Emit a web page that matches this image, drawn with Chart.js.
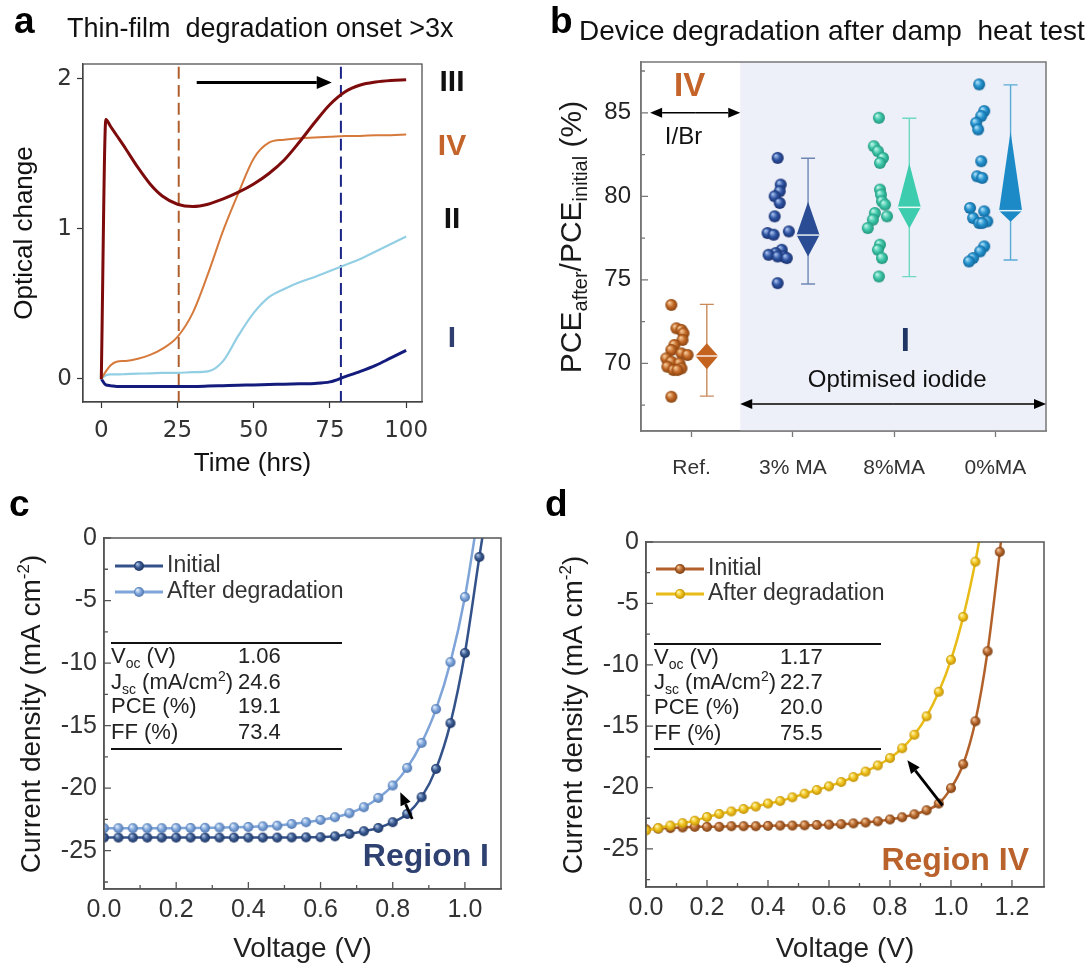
<!DOCTYPE html>
<html>
<head>
<meta charset="utf-8">
<script src="https://cdn.jsdelivr.net/npm/chart.js@4.4.1/dist/chart.umd.min.js"></script>
<style>
  html, body { margin: 0; padding: 0; background: #fff; }
  #wrap { position: relative; width: 1088px; height: 968px; overflow: hidden; }
  #wrap canvas { position: absolute; }
</style>
</head>
<body>
<div id="wrap">
  <canvas id="chartA" width="544" height="484" style="left:0;top:0"></canvas>
  <canvas id="chartB" width="544" height="484" style="left:544px;top:0"></canvas>
  <canvas id="chartC" width="544" height="484" style="left:0;top:484px"></canvas>
  <canvas id="chartD" width="544" height="484" style="left:544px;top:484px"></canvas>
</div>
<script>
// ---------- panel a : optical change of thin films ----------
const aTime = [0, 1.5, 3, 5, 8, 12, 16, 20, 25, 30, 35, 40, 45, 50, 55, 60, 65, 70, 75, 80, 85, 90, 95, 100];
const aRegionIII = [0, 1.73, 1.685, 1.625, 1.535, 1.41, 1.30, 1.22, 1.165, 1.15, 1.165, 1.20, 1.245, 1.30, 1.37, 1.46, 1.58, 1.71, 1.83, 1.915, 1.96, 1.98, 1.99, 1.995];
const aRegionIV = [0, 0.05, 0.09, 0.115, 0.12, 0.135, 0.16, 0.20, 0.28, 0.44, 0.70, 0.99, 1.24, 1.47, 1.575, 1.595, 1.605, 1.61, 1.615, 1.62, 1.62, 1.625, 1.625, 1.63];
const aRegionII = [0, 0.025, 0.03, 0.03, 0.032, 0.035, 0.037, 0.04, 0.04, 0.045, 0.05, 0.12, 0.29, 0.44, 0.545, 0.60, 0.645, 0.68, 0.72, 0.76, 0.80, 0.85, 0.90, 0.95];
const aRegionI = [0, -0.04, -0.045, -0.05, -0.05, -0.05, -0.05, -0.05, -0.05, -0.05, -0.048, -0.045, -0.042, -0.04, -0.037, -0.035, -0.032, -0.03, -0.02, 0.015, 0.05, 0.09, 0.14, 0.19];
const aOnset = [25.4, 78.6];
const aTicksX = [0, 25, 50, 75, 100];
const aTicksY = [0, 1, 2];
const aNames = ['III', 'IV', 'II', 'I'];

// ---------- panel b : PCE retention after damp heat ----------
const bGroups = ['Ref.', '3% MA', '8%MA', '0%MA'];
const bPos = [1, 2, 3, 4];
const bRefY = [73.5, 72.1, 72.0, 71.8, 71.4, 71.1, 70.8, 70.6, 70.5, 70.3, 70.1, 70.0, 69.8, 69.7, 69.6, 69.6, 68.0];
const bRefDx = [-0.20, -0.15, -0.10, -0.08, -0.09, -0.17, -0.20, -0.10, -0.04, -0.25, -0.20, -0.12, -0.24, -0.10, -0.18, -0.14, -0.20];
const bMA3Y = [82.3, 80.7, 80.3, 80.0, 79.6, 78.8, 77.8, 77.7, 77.9, 76.8, 76.6, 76.5, 76.4, 76.4, 76.3, 74.8];
const bMA3Dx = [-0.15, -0.12, -0.13, -0.18, -0.13, -0.18, -0.25, -0.19, -0.04, -0.11, -0.17, -0.24, -0.09, -0.15, -0.06, -0.15];
const bMA8Y = [84.7, 83.0, 82.7, 82.3, 82.0, 80.4, 80.1, 79.7, 79.5, 79.0, 78.8, 78.6, 78.1, 77.1, 76.8, 76.3, 75.2];
const bMA8Dx = [-0.15, -0.20, -0.16, -0.11, -0.14, -0.14, -0.13, -0.12, -0.09, -0.19, -0.07, -0.21, -0.26, -0.14, -0.16, -0.12, -0.15];
const bMA0Y = [86.7, 85.1, 84.8, 84.4, 84.0, 82.1, 81.2, 81.1, 79.3, 79.1, 78.7, 78.5, 78.4, 78.4, 77.0, 76.7, 76.3, 76.1];
const bMA0Dx = [-0.16, -0.11, -0.14, -0.19, -0.17, -0.14, -0.18, -0.13, -0.25, -0.11, -0.22, -0.08, -0.16, -0.13, -0.11, -0.15, -0.22, -0.26];
const bMean = [70.44, 77.68, 79.34, 79.14];
const bUpper = [71.2, 79.68, 81.98, 83.87];
const bLower = [69.64, 76.39, 78.08, 78.48];
const bMax = [73.53, 82.28, 84.67, 86.67];
const bMin = [68.04, 74.75, 75.19, 76.19];
const bTicksY = [70, 75, 80, 85];
const bMinorY = [67.5, 72.5, 77.5, 82.5, 87.5];

// ---------- panel c : J-V, region I ----------
const cVoltage = [0.00, 0.04, 0.08, 0.12, 0.16, 0.20, 0.24, 0.28, 0.32, 0.36, 0.40, 0.44, 0.48, 0.52, 0.56, 0.60, 0.64, 0.68, 0.72, 0.76, 0.80, 0.84, 0.88, 0.92, 0.96, 1.00, 1.04, 1.08];
const cInitial = [-23.95, -23.95, -23.95, -23.95, -23.95, -23.95, -23.95, -23.95, -23.95, -23.95, -23.95, -23.95, -23.95, -23.94, -23.93, -23.92, -23.85, -23.66, -23.44, -23.18, -22.72, -22.06, -20.72, -18.46, -14.80, -9.20, -1.52, 6.0];
const cAfter = [-23.20, -23.20, -23.20, -23.20, -23.20, -23.19, -23.18, -23.17, -23.15, -23.13, -23.10, -23.05, -23.00, -22.86, -22.72, -22.54, -22.32, -22.00, -21.52, -20.78, -19.79, -18.38, -16.38, -13.68, -9.92, -4.72, 2.5, null];
const cTable = ['1.06', '24.6', '19.1', '73.4'];

// ---------- panel d : J-V, region IV ----------
const dVoltage = [0.00, 0.04, 0.08, 0.12, 0.16, 0.20, 0.24, 0.28, 0.32, 0.36, 0.40, 0.44, 0.48, 0.52, 0.56, 0.60, 0.64, 0.68, 0.72, 0.76, 0.80, 0.84, 0.88, 0.92, 0.96, 1.00, 1.04, 1.08, 1.12, 1.16, 1.20];
const dInitial = [-23.40, -23.35, -23.30, -23.25, -23.20, -23.20, -23.20, -23.15, -23.15, -23.15, -23.12, -23.10, -23.10, -23.08, -23.05, -23.02, -22.98, -22.92, -22.85, -22.75, -22.60, -22.42, -22.18, -21.85, -21.30, -20.05, -18.10, -14.60, -8.90, -0.80, 8.0];
const dAfter = [-23.50, -23.30, -23.10, -22.90, -22.70, -22.40, -22.15, -21.95, -21.75, -21.55, -21.30, -21.10, -20.80, -20.50, -20.20, -19.90, -19.55, -19.15, -18.70, -18.20, -17.60, -16.80, -15.70, -14.20, -12.20, -9.60, -6.10, -1.60, 4.0, null, null];
const dTable = ['1.17', '22.7', '20.0', '75.5'];

const jvTicksY = [0, -5, -10, -15, -20, -25];
const jvMinorY = [-2.5, -7.5, -12.5, -17.5, -22.5, -27.5];

// ---------- helpers ----------
const SANS = '"Liberation Sans", Arial, sans-serif';
const pts = (xs, ys) => xs.map((v, i) => ({ x: v, y: ys[i] }));

function sphere(base, light, dark, r) {
  const c = document.createElement('canvas');
  c.width = c.height = Math.ceil(r * 2 + 2);
  const g = c.getContext('2d');
  const m = c.width / 2;
  const grd = g.createRadialGradient(m - r * 0.35, m - r * 0.4, r * 0.1, m, m, r);
  grd.addColorStop(0, light);
  grd.addColorStop(0.5, base);
  grd.addColorStop(1, dark);
  g.fillStyle = grd;
  g.beginPath();
  g.arc(m, m, r, 0, Math.PI * 2);
  g.fill();
  return c;
}

function arrow(ctx, x1, y1, x2, y2, color, lw, hl, hw) {
  const ang = Math.atan2(y2 - y1, x2 - x1);
  const bx = x2 - hl * Math.cos(ang), by = y2 - hl * Math.sin(ang);
  ctx.strokeStyle = color;
  ctx.fillStyle = color;
  ctx.lineWidth = lw;
  ctx.beginPath();
  ctx.moveTo(x1, y1);
  ctx.lineTo(bx, by);
  ctx.stroke();
  ctx.beginPath();
  ctx.moveTo(x2, y2);
  ctx.lineTo(bx + hw / 2 * Math.sin(ang), by - hw / 2 * Math.cos(ang));
  ctx.lineTo(bx - hw / 2 * Math.sin(ang), by + hw / 2 * Math.cos(ang));
  ctx.closePath();
  ctx.fill();
}

function dblArrow(ctx, x1, y1, x2, y2, color, lw, hl, hw) {
  const mx = (x1 + x2) / 2, my = (y1 + y2) / 2;
  arrow(ctx, mx, my, x1, y1, color, lw, hl, hw);
  arrow(ctx, mx, my, x2, y2, color, lw, hl, hw);
}

function richWidth(ctx, parts) {
  let w = 0;
  parts.forEach(p => { ctx.font = (p.b ? 'bold ' : '') + p.s + 'px ' + SANS; w += ctx.measureText(p.t).width; });
  return w;
}

function drawRich(ctx, x, y, parts) {
  ctx.textAlign = 'left';
  ctx.textBaseline = 'alphabetic';
  parts.forEach(p => {
    ctx.font = (p.b ? 'bold ' : '') + p.s + 'px ' + SANS;
    ctx.fillText(p.t, x, y + (p.dy || 0));
    x += ctx.measureText(p.t).width;
  });
}

function rotatedTitle(ctx, cx, cy, parts) {
  ctx.save();
  ctx.translate(cx, cy);
  ctx.rotate(-Math.PI / 2);
  ctx.fillStyle = '#1a1a1a';
  const w = richWidth(ctx, parts);
  drawRich(ctx, -w / 2, 10, parts);
  ctx.restore();
}

function heading(ctx, letter, lx, ly, title, tx, ty, size) {
  ctx.fillStyle = '#000';
  ctx.textAlign = 'left';
  ctx.textBaseline = 'alphabetic';
  ctx.font = 'bold 37px ' + SANS;
  ctx.fillText(letter, lx, ly);
  if (title) {
    ctx.font = size + 'px ' + SANS;
    ctx.fillStyle = '#111';
    ctx.fillText(title, tx, ty);
  }
}

function innerTicks(chart, xMajor, xMinor, yMajor, yMinor, color) {
  const { ctx, chartArea: a, scales: { x, y } } = chart;
  ctx.save();
  ctx.strokeStyle = color;
  ctx.lineWidth = 1.3;
  ctx.beginPath();
  xMajor.forEach(v => { const p = x.getPixelForValue(v); ctx.moveTo(p, a.bottom); ctx.lineTo(p, a.bottom - 7); });
  xMinor.forEach(v => { const p = x.getPixelForValue(v); ctx.moveTo(p, a.bottom); ctx.lineTo(p, a.bottom - 4); });
  yMajor.forEach(v => { const p = y.getPixelForValue(v); ctx.moveTo(a.left, p); ctx.lineTo(a.left + 7, p); });
  yMinor.forEach(v => { const p = y.getPixelForValue(v); ctx.moveTo(a.left, p); ctx.lineTo(a.left + 4, p); });
  ctx.stroke();
  ctx.restore();
}

function frame(chart, color, lw) {
  const { ctx, chartArea: a } = chart;
  ctx.save();
  ctx.strokeStyle = color;
  ctx.lineWidth = lw;
  ctx.strokeRect(a.left, a.top, a.right - a.left, a.bottom - a.top);
  ctx.restore();
}

// ---------- panel a ----------
const aColors = ['#7d0b0b', '#d67a3c', '#93cfe4', '#131b7c'];
const aLabelColors = ['#111', '#c4642a', '#111', '#2e3f70'];
const aLabelY = [1.976, 1.55, 1.06, 0.27];

const panelA = {
  id: 'panelA',
  afterDraw(chart) {
    const { ctx, chartArea: a, scales: { x, y } } = chart;
    frame(chart, '#444', 1.2);
    ctx.save();
    const ay = y.getPixelForValue(1.976);
    arrow(ctx, x.getPixelForValue(31.3), ay, x.getPixelForValue(75.6), ay, '#000', 3, 15, 13);
    ctx.font = 'bold 30px ' + SANS;
    ctx.textAlign = 'center';
    ctx.textBaseline = 'middle';
    aNames.forEach((t, i) => {
      ctx.fillStyle = aLabelColors[i];
      ctx.fillText(t, a.right + 30, y.getPixelForValue(aLabelY[i]));
    });
    heading(ctx, 'a', 14, 33, 'Thin-film  degradation onset >3x', 67, 37, 27);
    ctx.restore();
  }
};

new Chart(document.getElementById('chartA'), {
  type: 'line',
  data: {
    datasets: [
      { label: 'III', data: pts(aTime, aRegionIII), borderColor: aColors[0], borderWidth: 3 },
      { label: 'IV', data: pts(aTime, aRegionIV), borderColor: aColors[1], borderWidth: 2 },
      { label: 'II', data: pts(aTime, aRegionII), borderColor: aColors[2], borderWidth: 2.2 },
      { label: 'I', data: pts(aTime, aRegionI), borderColor: aColors[3], borderWidth: 3 },
      { label: 'onset ref', data: [{ x: aOnset[0], y: -0.16 }, { x: aOnset[0], y: 2.11 }], borderColor: '#b0602e', borderWidth: 2, borderDash: [12, 6] },
      { label: 'onset opt', data: [{ x: aOnset[1], y: -0.16 }, { x: aOnset[1], y: 2.11 }], borderColor: '#1a2488', borderWidth: 2, borderDash: [12, 6] }
    ]
  },
  options: {
    responsive: false,
    animation: false,
    layout: { padding: { top: 64, right: 122, left: 0, bottom: 0 } },
    elements: { point: { radius: 0 }, line: { cubicInterpolationMode: 'monotone', fill: false } },
    plugins: { legend: { display: false }, tooltip: { enabled: false } },
    scales: {
      x: {
        type: 'linear', min: -6, max: 105.2,
        afterBuildTicks: s => { s.ticks = aTicksX.map(v => ({ value: v })); },
        afterFit: s => { s.height = 82; },
        grid: { drawOnChartArea: false, tickLength: 6, tickColor: '#333', tickWidth: 1.2 },
        border: { color: '#444', width: 1.2 },
        ticks: { font: { family: 'DejaVu Sans', size: 23 }, color: '#333', padding: 9, maxRotation: 0 },
        title: { display: true, text: 'Time (hrs)', font: { family: 'Liberation Sans', size: 26 }, color: '#111', padding: { top: 0, bottom: 5 } }
      },
      y: {
        type: 'linear', min: -0.154, max: 2.1,
        afterBuildTicks: s => { s.ticks = aTicksY.map(v => ({ value: v })); },
        afterFit: s => { s.width = 83; },
        grid: { drawOnChartArea: false, tickLength: 6, tickColor: '#333', tickWidth: 1.2 },
        border: { color: '#444', width: 1.2 },
        ticks: { font: { family: 'DejaVu Sans', size: 23 }, color: '#333', padding: 5 },
        title: { display: true, text: 'Optical change', font: { family: 'Liberation Sans', size: 26 }, color: '#111', padding: { top: 9, bottom: 0 } }
      }
    }
  },
  plugins: [panelA]
});

// ---------- panel b ----------
const bColors = ['#c4621f', '#2a4c94', '#3dcdae', '#1b8ac6'];
const bWhisker = ['#c98a5a', '#6f86b5', '#6fd8c2', '#5aaad6'];
const bSprites = [
  sphere('#c46a28', '#f4c896', '#87420f', 6),
  sphere('#2f55a4', '#a4bdea', '#19306e', 6),
  sphere('#3fc7aa', '#baf2e4', '#21957b', 6),
  sphere('#2493cf', '#aadef6', '#13669a', 6)
];
const bShadeFrom = 1.48;

const panelB = {
  id: 'panelB',
  beforeDatasetsDraw(chart) {
    const { ctx, chartArea: a, scales: { x } } = chart;
    const xs = x.getPixelForValue(bShadeFrom);
    ctx.save();
    ctx.fillStyle = '#edf0f8';
    ctx.fillRect(xs, a.top, a.right - xs, a.bottom - a.top);
    ctx.restore();
  },
  afterDatasetsDraw(chart) {
    const { ctx, scales: { x, y } } = chart;
    ctx.save();
    bPos.forEach((p, i) => {
      const cx = x.getPixelForValue(p + 0.15);
      const yHi = y.getPixelForValue(bMax[i]), yLo = y.getPixelForValue(bMin[i]);
      ctx.strokeStyle = bWhisker[i];
      ctx.lineWidth = 1.4;
      ctx.beginPath();
      ctx.moveTo(cx, yHi); ctx.lineTo(cx, yLo);
      ctx.moveTo(cx - 7, yHi); ctx.lineTo(cx + 7, yHi);
      ctx.moveTo(cx - 7, yLo); ctx.lineTo(cx + 7, yLo);
      ctx.stroke();
      const yU = y.getPixelForValue(bUpper[i]), yM = y.getPixelForValue(bMean[i]), yL = y.getPixelForValue(bLower[i]);
      ctx.fillStyle = bColors[i];
      ctx.beginPath();
      ctx.moveTo(cx, yU); ctx.lineTo(cx + 11.5, yM); ctx.lineTo(cx, yL); ctx.lineTo(cx - 11.5, yM);
      ctx.closePath();
      ctx.fill();
      ctx.strokeStyle = 'rgba(255,255,255,0.9)';
      ctx.lineWidth = 1.5;
      ctx.beginPath();
      ctx.moveTo(cx - 11.5, yM); ctx.lineTo(cx + 11.5, yM);
      ctx.stroke();
    });
    ctx.restore();
  },
  afterDraw(chart) {
    const { ctx, chartArea: a, scales: { x, y } } = chart;
    frame(chart, '#777', 1.5);
    innerTicks(chart, [], [], bTicksY, bMinorY, '#777');
    ctx.save();
    const xs = x.getPixelForValue(bShadeFrom);
    dblArrow(ctx, x.getPixelForValue(0.59), y.getPixelForValue(85), xs, y.getPixelForValue(85), '#000', 1.5, 12, 10);
    dblArrow(ctx, xs, y.getPixelForValue(67.56), a.right, y.getPixelForValue(67.56), '#000', 1.5, 12, 10);
    ctx.textAlign = 'center';
    ctx.textBaseline = 'middle';
    ctx.fillStyle = '#c4642a';
    ctx.font = 'bold 33px ' + SANS;
    ctx.fillText('IV', x.getPixelForValue(0.98), y.getPixelForValue(86.55));
    ctx.fillStyle = '#111';
    ctx.font = '24px ' + SANS;
    ctx.fillText('I/Br', x.getPixelForValue(0.92), y.getPixelForValue(83.55));
    ctx.fillText('Optimised iodide', x.getPixelForValue(3.03), y.getPixelForValue(69.0));
    ctx.fillStyle = '#1f3566';
    ctx.font = 'bold 33px ' + SANS;
    ctx.fillText('I', x.getPixelForValue(3.11), y.getPixelForValue(71.3));
    rotatedTitle(ctx, 27, 237, [
      { t: 'PCE', s: 30 }, { t: 'after', s: 20, dy: 6 }, { t: '/PCE', s: 30 },
      { t: 'initial', s: 20, dy: 6 }, { t: ' (%)', s: 30 }
    ]);
    heading(ctx, 'b', 6, 33, 'Device degradation after damp  heat test', 35, 40, 28);
    ctx.restore();
  }
};

new Chart(document.getElementById('chartB'), {
  type: 'scatter',
  data: {
    datasets: [
      { label: bGroups[0], data: bRefY.map((v, i) => ({ x: bPos[0] + bRefDx[i], y: v })), pointStyle: bSprites[0], pointRadius: 6 },
      { label: bGroups[1], data: bMA3Y.map((v, i) => ({ x: bPos[1] + bMA3Dx[i], y: v })), pointStyle: bSprites[1], pointRadius: 6 },
      { label: bGroups[2], data: bMA8Y.map((v, i) => ({ x: bPos[2] + bMA8Dx[i], y: v })), pointStyle: bSprites[2], pointRadius: 6 },
      { label: bGroups[3], data: bMA0Y.map((v, i) => ({ x: bPos[3] + bMA0Dx[i], y: v })), pointStyle: bSprites[3], pointRadius: 6 }
    ]
  },
  options: {
    responsive: false,
    animation: false,
    layout: { padding: { top: 62, right: 42, left: 0, bottom: 0 } },
    plugins: { legend: { display: false }, tooltip: { enabled: false } },
    scales: {
      x: {
        type: 'linear', min: 0.5, max: 4.5,
        afterBuildTicks: s => { s.ticks = bPos.map(v => ({ value: v })); },
        afterFit: s => { s.height = 53; },
        grid: { drawOnChartArea: false, tickLength: 6, tickColor: '#777', tickWidth: 1.3 },
        border: { color: '#777', width: 1.5 },
        ticks: { font: { family: 'Liberation Sans', size: 21 }, color: '#333', padding: 19, maxRotation: 0, callback: (v, i) => bGroups[i] }
      },
      y: {
        type: 'linear', min: 65.95, max: 88.04,
        afterBuildTicks: s => { s.ticks = bTicksY.map(v => ({ value: v })); },
        afterFit: s => { s.width = 97; },
        grid: { drawOnChartArea: false, drawTicks: false },
        border: { color: '#777', width: 1.5 },
        ticks: { font: { family: 'Liberation Sans', size: 24 }, color: '#222', padding: 10 }
      }
    }
  },
  plugins: [panelB]
});

// ---------- panels c and d ----------
const tableRows = [
  [{ t: 'V', s: 22 }, { t: 'oc', s: 14, dy: 5 }, { t: ' (V)', s: 22 }],
  [{ t: 'J', s: 22 }, { t: 'sc', s: 14, dy: 5 }, { t: ' (mA/cm', s: 22 }, { t: '2', s: 14, dy: -8 }, { t: ')', s: 22 }],
  [{ t: 'PCE (%)', s: 22 }],
  [{ t: 'FF (%)', s: 22 }]
];

function jvPlugin(cfg) {
  return {
    id: 'jv' + cfg.letter,
    afterDraw(chart) {
      const { ctx, scales: { x, y } } = chart;
      frame(chart, '#555', 1.5);
      innerTicks(chart, cfg.xTicks, cfg.xMinor, jvTicksY, jvMinorY, '#555');
      ctx.save();
      // legend
      cfg.legend.forEach(item => {
        ctx.strokeStyle = item.color;
        ctx.lineWidth = 3;
        ctx.beginPath();
        ctx.moveTo(cfg.legX, item.y); ctx.lineTo(cfg.legX + 48, item.y);
        ctx.stroke();
        ctx.drawImage(item.sprite, cfg.legX + 24 - item.sprite.width / 2, item.y - item.sprite.height / 2);
        ctx.fillStyle = '#333';
        ctx.font = '23px ' + SANS;
        ctx.textAlign = 'left';
        ctx.textBaseline = 'middle';
        ctx.fillText(item.text, cfg.legX + 52, item.y);
      });
      // table
      ctx.strokeStyle = '#111';
      ctx.lineWidth = 2;
      ctx.beginPath();
      ctx.moveTo(cfg.tabX0, cfg.tabTop); ctx.lineTo(cfg.tabX1, cfg.tabTop);
      ctx.moveTo(cfg.tabX0, cfg.tabBot); ctx.lineTo(cfg.tabX1, cfg.tabBot);
      ctx.stroke();
      ctx.fillStyle = '#222';
      tableRows.forEach((row, i) => {
        const base = cfg.rowY[i] + 8;
        drawRich(ctx, cfg.tabX0, base, row);
        ctx.font = '22px ' + SANS;
        ctx.fillText(cfg.values[i], cfg.valX, base);
      });
      // shift arrow
      arrow(ctx, x.getPixelForValue(cfg.arrow[0]), y.getPixelForValue(cfg.arrow[1]),
        x.getPixelForValue(cfg.arrow[2]), y.getPixelForValue(cfg.arrow[3]), '#000', 2.8, 13, 11);
      // region label
      ctx.fillStyle = cfg.regionColor;
      ctx.font = 'bold 32px ' + SANS;
      ctx.textAlign = 'right';
      ctx.textBaseline = 'middle';
      ctx.fillText(cfg.region, cfg.regionX, cfg.regionY);
      rotatedTitle(ctx, cfg.titleX, cfg.titleY, [
        { t: 'Current density (mA cm', s: 28 }, { t: '-2', s: 17, dy: -11 }, { t: ')', s: 28 }
      ]);
      heading(ctx, cfg.letter, cfg.letterX, 32, null);
      ctx.restore();
    }
  };
}

function jvOptions(cfg) {
  return {
    responsive: false,
    animation: false,
    layout: { padding: { top: cfg.top, right: cfg.right, left: 0, bottom: 0 } },
    elements: { line: { cubicInterpolationMode: 'monotone', fill: false } },
    plugins: { legend: { display: false }, tooltip: { enabled: false } },
    scales: {
      x: {
        type: 'linear', min: 0, max: cfg.xMax,
        afterBuildTicks: s => { s.ticks = cfg.xTicks.map(v => ({ value: v })); },
        afterFit: s => { s.height = cfg.xH; },
        grid: { drawOnChartArea: false, drawTicks: false },
        border: { color: '#555', width: 1.5 },
        ticks: { font: { family: 'Liberation Sans', size: 25 }, color: '#333', padding: 6, maxRotation: 0, callback: v => v.toFixed(1) },
        title: { display: true, text: 'Voltage (V)', font: { family: 'Liberation Sans', size: 28 }, color: '#222', padding: { top: 0, bottom: 2 } }
      },
      y: {
        type: 'linear', min: cfg.yMin, max: 0,
        afterBuildTicks: s => { s.ticks = jvTicksY.map(v => ({ value: v })); },
        afterFit: s => { s.width = cfg.yW; },
        grid: { drawOnChartArea: false, drawTicks: false },
        border: { color: '#555', width: 1.5 },
        ticks: { font: { family: 'Liberation Sans', size: 25 }, color: '#333', padding: 7, callback: v => String(v) }
      }
    }
  };
}

const cSprInit = sphere('#3a5b92', '#a8bfe0', '#1d3462', 5);
const cSprAfter = sphere('#80a8dc', '#e0ebf9', '#4e74ae', 5);
const dSprInit = sphere('#b96a30', '#f2c396', '#7a3d10', 5);
const dSprAfter = sphere('#efc21c', '#fff4ae', '#bf8f08', 5);

const cXTicks = [0, 0.2, 0.4, 0.6, 0.8, 1.0];
const dXTicks = [0, 0.2, 0.4, 0.6, 0.8, 1.0, 1.2];

new Chart(document.getElementById('chartC'), {
  type: 'line',
  data: {
    datasets: [
      { label: 'After degradation', data: pts(cVoltage, cAfter), borderColor: '#7ea4d8', borderWidth: 2.5, pointStyle: cSprAfter, pointRadius: 5 },
      { label: 'Initial', data: pts(cVoltage, cInitial), borderColor: '#34528a', borderWidth: 2.5, pointStyle: cSprInit, pointRadius: 5 }
    ]
  },
  options: jvOptions({ top: 54, right: 43, xMax: 1.1, xTicks: cXTicks, xH: 79, yMin: -28.06, yW: 104 }),
  plugins: [jvPlugin({
    letter: 'c', letterX: 9, xTicks: cXTicks, xMinor: [0.1, 0.3, 0.5, 0.7, 0.9],
    legX: 115,
    legend: [
      { y: 82, color: '#34528a', sprite: cSprInit, text: 'Initial' },
      { y: 108, color: '#7ea4d8', sprite: cSprAfter, text: 'After degradation' }
    ],
    tabX0: 111, tabX1: 342, tabTop: 159, tabBot: 265, rowY: [171, 196.5, 221, 247], valX: 238, values: cTable,
    arrow: [0.854, -22.46, 0.821, -20.32],
    region: 'Region I', regionColor: '#2e4170', regionX: 489, regionY: 373,
    titleX: 30, titleY: 230
  })]
});

new Chart(document.getElementById('chartD'), {
  type: 'line',
  data: {
    datasets: [
      { label: 'After degradation', data: pts(dVoltage, dAfter), borderColor: '#e8bb16', borderWidth: 2.5, pointStyle: dSprAfter, pointRadius: 5 },
      { label: 'Initial', data: pts(dVoltage, dInitial), borderColor: '#b2612a', borderWidth: 2.5, pointStyle: dSprInit, pointRadius: 5 }
    ]
  },
  options: jvOptions({ top: 58, right: 44, xMax: 1.305, xTicks: dXTicks, xH: 81, yMin: -28.1, yW: 102 }),
  plugins: [jvPlugin({
    letter: 'd', letterX: 1, xTicks: dXTicks, xMinor: [0.1, 0.3, 0.5, 0.7, 0.9, 1.1],
    legX: 112,
    legend: [
      { y: 85, color: '#b2612a', sprite: dSprInit, text: 'Initial' },
      { y: 110, color: '#e8bb16', sprite: dSprAfter, text: 'After degradation' }
    ],
    tabX0: 110, tabX1: 337, tabTop: 160, tabBot: 265, rowY: [172, 197, 222, 248], valX: 236, values: dTable,
    arrow: [0.972, -21.45, 0.857, -17.78],
    region: 'Region IV', regionColor: '#b9622c', regionX: 485, regionY: 377,
    titleX: 28, titleY: 231
  })]
});
</script>
</body>
</html>
